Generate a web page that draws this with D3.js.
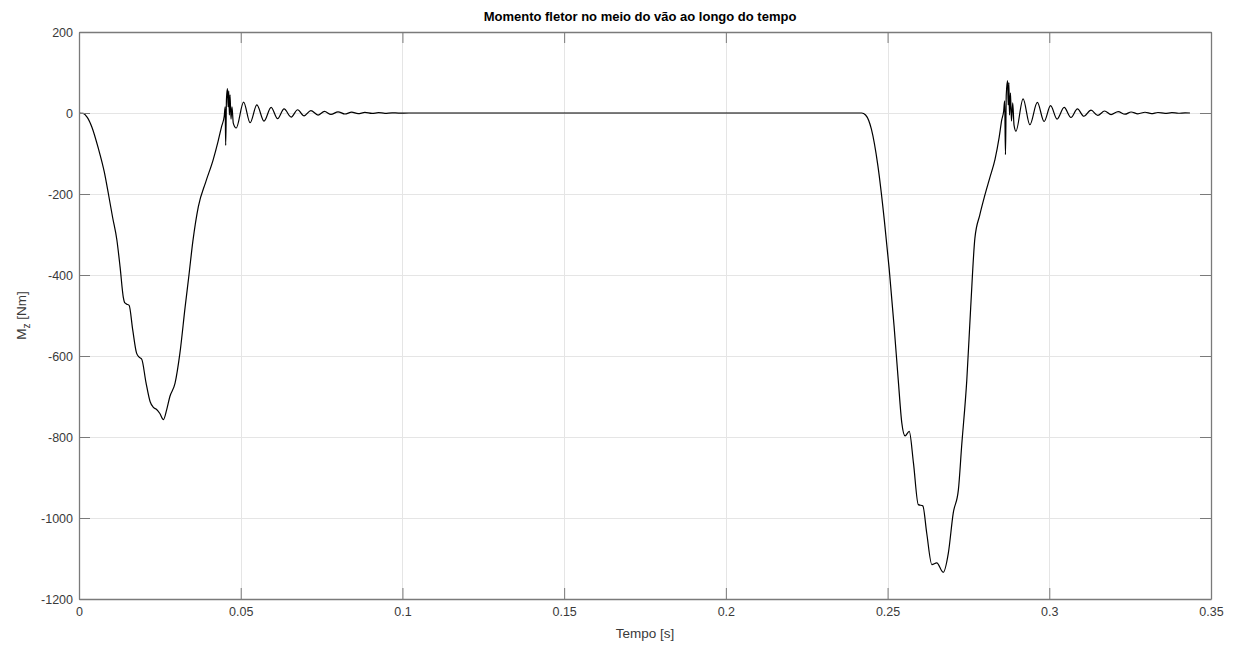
<!DOCTYPE html>
<html>
<head>
<meta charset="utf-8">
<script src="https://cdn.jsdelivr.net/npm/d3@7"></script>
<style>
  html, body { margin: 0; padding: 0; background: #fff; }
  svg { display: block; font-family: "Liberation Sans", Arial, Helvetica, sans-serif; }
</style>
</head>
<body>
<svg id="chart" width="1238" height="646"></svg>
<script>
// Bending moment at mid-span, two axle passages (time [s], moment [Nm])
const firstPassage = [
  [0, 0], [0.0013, -1], [0.0025, -10], [0.004, -35], [0.006, -88], [0.0078, -145],
  [0.0091, -200], [0.0104, -258], [0.0117, -313], [0.0127, -380], [0.0137, -455],
  [0.0142, -469], [0.0148, -472], [0.0155, -475], [0.0166, -535], [0.0178, -593],
  [0.0186, -603], [0.0194, -608], [0.0207, -665], [0.0220, -713], [0.0230, -727],
  [0.0240, -732], [0.0250, -742], [0.0261, -757], [0.0271, -733], [0.0281, -700],
  [0.0297, -667], [0.0312, -593], [0.0328, -480], [0.0340, -400], [0.0352, -317],
  [0.0369, -231], [0.0392, -170], [0.0415, -115], [0.0430, -70], [0.0441, -33],
  [0.0449, -8], [0.0452, 15], [0.04535, -80], [0.0456, 35], [0.0459, 60],
  [0.0461, 15], [0.0463, 55], [0.0465, -5], [0.0467, 45], [0.0470, -15],
  [0.0473, 15], [0.0477, -25], [0.0486, -37]
];

const firstRingdown = [
  [0.0509, 27], [0.0529, -24], [0.0550, 20], [0.0572, -20], [0.0594, 14],
  [0.0614, -14], [0.0634, 10], [0.0656, -10], [0.0676, 8], [0.0696, -7],
  [0.0717, 6], [0.0739, -5], [0.0759, 4], [0.0779, -3.5], [0.0801, 3],
  [0.0822, -2.5], [0.0843, 2], [0.0863, -1.7], [0.0884, 1.4], [0.0906, -1.1],
  [0.0926, 0.9], [0.0946, -0.7], [0.0968, 0.5], [0.0988, -0.3], [0.1020, 0]
];

const restPeriod = [[0.1200, 0], [0.2000, 0], [0.2420, 0]];

const secondPassage = [
  [0.2432, -5], [0.2450, -40], [0.2470, -130], [0.2490, -265], [0.2505, -385],
  [0.2520, -525], [0.2533, -659], [0.2544, -765], [0.2554, -797], [0.2567, -786],
  [0.2580, -864], [0.2595, -967], [0.2609, -970], [0.2621, -1037], [0.2637, -1115],
  [0.2652, -1111], [0.2672, -1134], [0.2688, -1086], [0.2703, -988], [0.2719, -930],
  [0.2729, -823], [0.2745, -659], [0.2757, -480], [0.2770, -309], [0.2785, -252],
  [0.2800, -205], [0.2816, -160], [0.2832, -115], [0.2845, -60], [0.2853, -17],
  [0.2859, 5], [0.2862, 30], [0.28645, -103], [0.2867, 45], [0.2871, 80],
  [0.2873, 20], [0.2875, 75], [0.2877, -5], [0.2880, 50], [0.2883, -20],
  [0.2887, 25], [0.2891, -30], [0.2897, -45]
];

const secondRingdown = [
  [0.2919, 35], [0.2940, -29], [0.2963, 26], [0.2984, -21], [0.3004, 18],
  [0.3024, -15], [0.3046, 14], [0.3067, -11], [0.3087, 10], [0.3107, -8],
  [0.3129, 7], [0.3150, -6], [0.3171, 5], [0.3191, -4], [0.3213, 3.5],
  [0.3234, -3], [0.3253, 2.5], [0.3274, -2], [0.3296, 1.8], [0.3316, -1.5],
  [0.3336, 1.2], [0.3358, -1], [0.3379, 0.8], [0.3399, -0.6], [0.3420, 0.4],
  [0.3435, 0]
];

const xTicks = [0, 0.05, 0.1, 0.15, 0.2, 0.25, 0.3, 0.35];
const yTicks = [200, 0, -200, -400, -600, -800, -1000, -1200];

const series = [].concat(firstPassage, firstRingdown, restPeriod, secondPassage, secondRingdown);

const svg = d3.select("#chart");
const W = 1238, H = 646;
const margin = { left: 79, top: 32, right: W - 1211, bottom: H - 599 };
const x = d3.scaleLinear().domain([0, 0.35]).range([margin.left, W - margin.right]);
const y = d3.scaleLinear().domain([-1200, 200]).range([H - margin.bottom, margin.top]);

const x0 = x.range()[0], x1 = x.range()[1];
const y0 = y.range()[1], y1 = y.range()[0];

// grid
const grid = svg.append("g").attr("stroke", "#e5e5e5").attr("stroke-width", 1);
xTicks.slice(1, -1).forEach(t => {
  grid.append("line").attr("x1", Math.round(x(t)) + 0.5).attr("x2", Math.round(x(t)) + 0.5)
    .attr("y1", y0).attr("y2", y1);
});
yTicks.slice(1, -1).forEach(t => {
  grid.append("line").attr("y1", Math.round(y(t)) + 0.5).attr("y2", Math.round(y(t)) + 0.5)
    .attr("x1", x0).attr("x2", x1);
});

// curve
const line = d3.line()
  .x(d => x(d[0]))
  .y(d => y(d[1]))
  .curve(d3.curveMonotoneX);

svg.append("path")
  .datum(series)
  .attr("d", line)
  .attr("fill", "none")
  .attr("stroke", "#000")
  .attr("stroke-width", 1.2)
  .attr("stroke-linejoin", "round");

// axes (inward ticks on all four sides)
const tickLen = 11;
const axisColor = "#7a7a7a";
const axBottom = svg.append("g").attr("transform", `translate(0,${y1})`)
  .call(d3.axisBottom(x).tickValues(xTicks).tickSizeInner(-tickLen).tickSizeOuter(0).tickPadding(8)
    .tickFormat(d => String(+d.toFixed(2))));
const axTop = svg.append("g").attr("transform", `translate(0,${y0})`)
  .call(d3.axisTop(x).tickValues(xTicks).tickSizeInner(-tickLen).tickSizeOuter(0).tickFormat(""));
const axLeft = svg.append("g").attr("transform", `translate(${x0},0)`)
  .call(d3.axisLeft(y).tickValues(yTicks).tickSizeInner(-tickLen).tickSizeOuter(0).tickPadding(6)
    .tickFormat(d => String(d)));
const axRight = svg.append("g").attr("transform", `translate(${x1},0)`)
  .call(d3.axisRight(y).tickValues(yTicks).tickSizeInner(-tickLen).tickSizeOuter(0).tickFormat(""));

[axBottom, axTop, axLeft, axRight].forEach(g => {
  g.select(".domain").attr("stroke", axisColor).attr("stroke-width", 1.3);
  g.selectAll(".tick line").attr("stroke", axisColor).attr("stroke-width", 1);
  g.selectAll(".tick text").attr("fill", "#3a3a3a").style("font-size", "12.5px")
    .style("font-family", "'Liberation Sans', Arial, sans-serif");
});

// title
svg.append("text")
  .attr("x", (x0 + x1) / 2 - 5).attr("y", 21)
  .attr("text-anchor", "middle")
  .style("font-size", "13px").style("font-weight", "bold").attr("fill", "#000")
  .text("Momento fletor no meio do vão ao longo do tempo");

// x label
svg.append("text")
  .attr("x", (x0 + x1) / 2).attr("y", 638)
  .attr("text-anchor", "middle")
  .style("font-size", "13.5px").attr("fill", "#3a3a3a")
  .text("Tempo [s]");

// y label with subscript
const yl = svg.append("text")
  .attr("transform", `translate(26,${(y0 + y1) / 2}) rotate(-90)`)
  .attr("text-anchor", "middle")
  .style("font-size", "13.5px").attr("fill", "#3a3a3a");
yl.append("tspan").text("M");
yl.append("tspan").attr("dy", 4).style("font-size", "10px").text("z");
yl.append("tspan").attr("dy", -4).text(" [Nm]");
</script>
</body>
</html>
